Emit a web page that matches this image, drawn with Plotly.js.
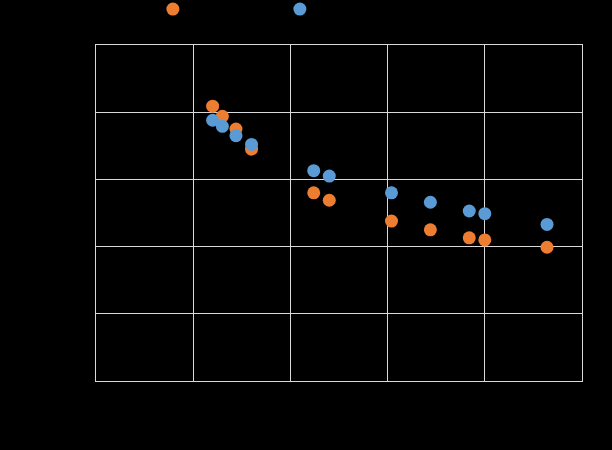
<!DOCTYPE html>
<html>
<head>
<meta charset="utf-8">
<script src="https://cdn.plot.ly/plotly-3.0.1.min.js"></script>
<style>
  html, body { margin: 0; padding: 0; background: #000; }
  #chart { width: 612px; height: 450px; }
</style>
</head>
<body>
<div id="chart"></div>
<script>
// values (labels are black on black there)
const seriesNames = ['Series 1', 'Series 2'];
const xValues = [60, 65, 72, 80, 112, 120, 152, 172, 192, 200, 232];
const series1 = [4.09, 3.94, 3.75, 3.45, 2.80, 2.69, 2.38, 2.25, 2.13, 2.10, 1.99];
const series2 = [3.88, 3.79, 3.65, 3.52, 3.13, 3.05, 2.80, 2.66, 2.53, 2.49, 2.33];
const seriesColors = ['#ED7D31', '#5B9BD5'];

const traces = [series1, series2].map((ys, i) => ({
  x: xValues,
  y: ys,
  type: 'scatter',
  mode: 'markers',
  name: seriesNames[i],
  marker: { color: seriesColors[i], size: 13 },
  hoverinfo: 'skip',
}));

const gridColor = '#D9D9D9';
const axisBase = {
  showgrid: true,
  gridcolor: gridColor,
  gridwidth: 1,
  zeroline: false,
  showline: true,
  linecolor: gridColor,
  linewidth: 1,
  mirror: true,
  ticks: '',
  tickfont: { color: '#000', size: 11 },
};

const layout = {
  width: 612,
  height: 450,
  paper_bgcolor: '#000',
  plot_bgcolor: '#000',
  font: { family: 'Liberation Sans, Arial, sans-serif', color: '#000', size: 12 },
  // fixed margins so the legend above the plot doesn't push the frame down
  margin: { l: 96, r: 30, t: 45, b: 69, autoexpand: false },
  showlegend: true,
  legend: {
    orientation: 'h',
    x: 0.117,
    xanchor: 'left',
    y: 1.107,
    yanchor: 'middle',
    entrywidth: 82,
    entrywidthmode: 'pixels',
    font: { color: '#000', size: 12 },
    bgcolor: 'rgba(0,0,0,0)',
  },
  xaxis: Object.assign({}, axisBase, { range: [0, 250], dtick: 50 }),
  yaxis: Object.assign({}, axisBase, { range: [0, 5], dtick: 1 }),
};

Plotly.newPlot('chart', traces, layout, { displayModeBar: false, staticPlot: true });
</script>
</body>
</html>
